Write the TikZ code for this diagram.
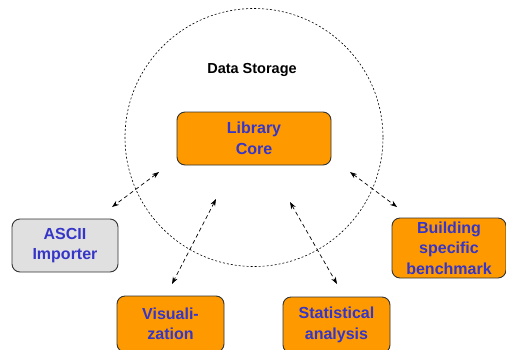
\documentclass[tikz,border=0pt]{standalone}
\usepackage{fontspec}
\setmainfont{Liberation Sans}
\usetikzlibrary{arrows.meta}
\definecolor{boxorange}{HTML}{FF9900}
\definecolor{boxgray}{HTML}{E0E0E0}
\definecolor{labelblue}{HTML}{3535C8}
\definecolor{edgegray}{HTML}{333333}
\tikzset{
  module/.style={draw=edgegray, line width=0.9pt, rounded corners=8pt,
    fill=boxorange, text=labelblue, align=center, inner sep=0pt,
    font=\fontsize{16}{20.5}\selectfont\bfseries},
  importer/.style={module, fill=boxgray},
  link/.style={line width=0.7pt, dash pattern=on 4pt off 3pt,
    {Stealth[length=7pt,width=5pt]}-{Stealth[length=7pt,width=5pt]}},
  storage/.style={line width=0.6pt, dash pattern=on 2pt off 2pt}
}
\begin{document}
\begin{tikzpicture}[x=1pt,y=-1pt]
  \clip (0,0) rectangle (506,349);
  \fill[white] (0,0) rectangle (506,349);

  % storage boundary
  \draw[storage] (254,137.5) circle[radius=129];
  \node[font=\fontsize{14.5}{17}\selectfont\bfseries] (title) at (252,70) {Data Storage};

  % modules
  \node[module, minimum width=154pt, minimum height=53pt] (core) at (254,138.5) {Library\\Core};
  \node[importer, minimum width=106pt, minimum height=53pt] (ascii) at (65,245.5) {ASCII\\Importer};
  \node[module, minimum width=107pt, minimum height=56pt] (vis) at (170.5,324) {Visuali-\\zation};
  \node[module, minimum width=107pt, minimum height=56pt] (stat) at (336.5,325) {Statistical\\analysis};
  \node[module, minimum width=114pt, minimum height=60pt] (build) at (449,248) {Building\\specific\\benchmark};

  % link end points
  \coordinate (a1) at (159,172);  \coordinate (a2) at (112,207);
  \coordinate (v1) at (216,199);  \coordinate (v2) at (172,284);
  \coordinate (s1) at (290,202);  \coordinate (s2) at (337,284);
  \coordinate (b1) at (350,172);  \coordinate (b2) at (397,207);

  \draw[link] (a1) -- (a2);
  \draw[link] (v1) -- (v2);
  \draw[link] (s1) -- (s2);
  \draw[link] (b1) -- (b2);
\end{tikzpicture}
\end{document}
